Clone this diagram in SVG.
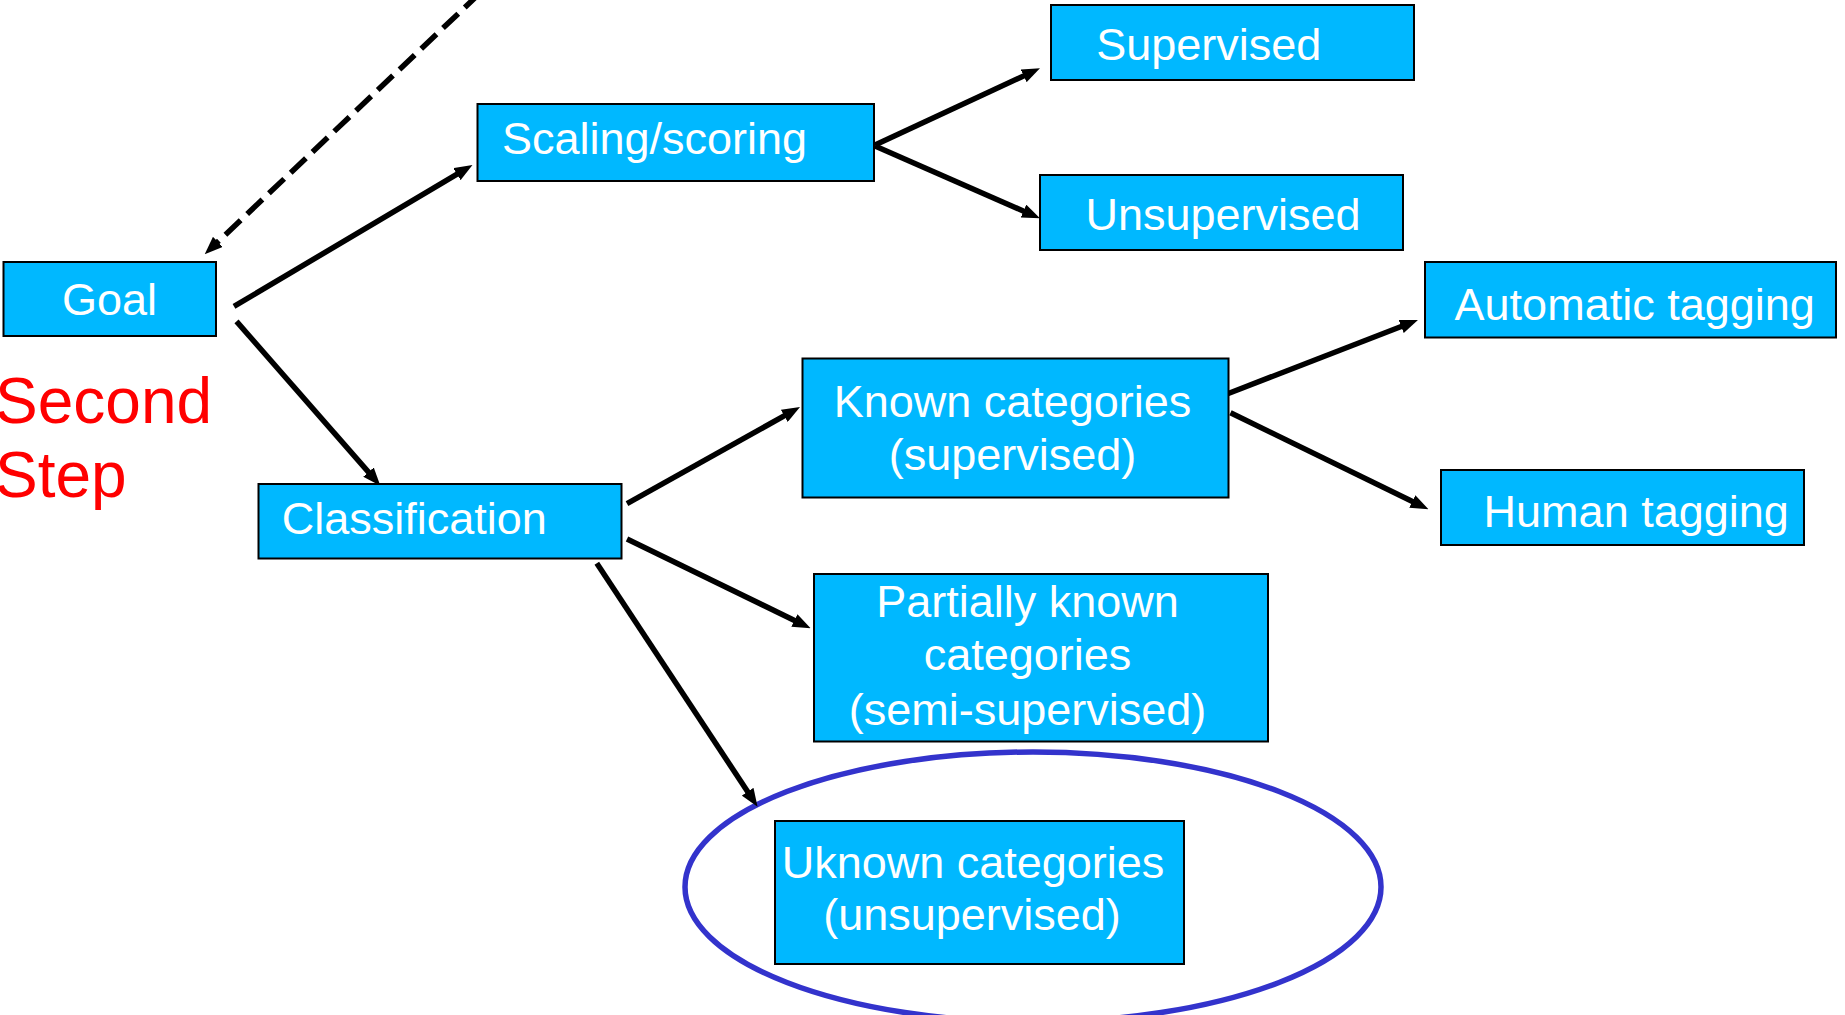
<svg xmlns="http://www.w3.org/2000/svg" width="1845" height="1015" viewBox="0 0 1845 1015">
<style>
.box{fill:#00B8FF;stroke:#000;stroke-width:2}
.lbl{font-family:"Liberation Sans",Arial,sans-serif;font-size:45px;fill:#fff;text-anchor:middle}
.red{font-family:"Liberation Sans",Arial,sans-serif;font-size:64px;fill:#FF0000}
.con{stroke:#000;stroke-width:5.5;fill:none;marker-end:url(#ah)}
.dash{stroke-dasharray:21 9}
</style>
<defs>
<marker id="ah" markerUnits="userSpaceOnUse" markerWidth="18" markerHeight="14" refX="7" refY="7" orient="auto">
<path d="M0,0 L18,7 L0,14 z" fill="#000"/>
</marker>
</defs>
<rect width="1845" height="1015" fill="#fff"/>
<ellipse id="highlight" cx="1033" cy="887" rx="348" ry="135" fill="none" stroke="#3333CC" stroke-width="5.5"/>
<g id="connectors">
<line class="con dash" x1="480" y1="-7" x2="212.7" y2="246.7"/>
<line class="con" x1="234" y1="306.4" x2="463" y2="170.6"/>
<line class="con" x1="236.5" y1="321.4" x2="373.1" y2="477.4"/>
<line class="con" x1="875" y1="145" x2="1030" y2="72.9"/>
<line class="con" x1="875" y1="146" x2="1029.9" y2="213.9"/>
<line class="con" x1="1227" y1="394" x2="1407.7" y2="324"/>
<line class="con" x1="1230.5" y1="412.7" x2="1418.6" y2="504.5"/>
<line class="con" x1="627" y1="503.6" x2="790.4" y2="412.4"/>
<line class="con" x1="627" y1="539" x2="800.7" y2="623.5"/>
<line class="con" x1="596.8" y1="563.3" x2="751.5" y2="797.5"/>
</g>
<g id="goal"><rect class="box" x="3.5" y="262" width="212.5" height="74"/><text class="lbl" x="109.5" y="315">Goal</text></g>
<g id="second-step"><text class="red" x="-5" y="423">Second</text><text class="red" x="-5" y="497">Step</text></g>
<g id="scaling"><rect class="box" x="477.5" y="104" width="396.5" height="77"/><text class="lbl" x="654.5" y="153.5">Scaling/scoring</text></g>
<g id="supervised"><rect class="box" x="1051" y="5" width="363" height="75"/><text class="lbl" x="1208.7" y="59.5">Supervised</text></g>
<g id="unsupervised"><rect class="box" x="1040" y="175" width="363" height="75"/><text class="lbl" x="1223" y="229.5">Unsupervised</text></g>
<g id="automatic"><rect class="box" x="1425" y="262" width="411" height="75.5"/><text class="lbl" x="1634.7" y="320">Automatic tagging</text></g>
<g id="known"><rect class="box" x="802.5" y="358.5" width="426" height="139"/><text class="lbl" x="1012.5" y="416.7">Known categories</text><text class="lbl" x="1012.5" y="470">(supervised)</text></g>
<g id="human"><rect class="box" x="1441" y="470" width="363" height="75"/><text class="lbl" x="1636.2" y="526.7">Human tagging</text></g>
<g id="classification"><rect class="box" x="258.5" y="484" width="363" height="74.5"/><text class="lbl" x="414.2" y="534">Classification</text></g>
<g id="partially"><rect class="box" x="814" y="574" width="454" height="167.5"/><text class="lbl" x="1027.5" y="616.7">Partially known</text><text class="lbl" x="1027.5" y="670">categories</text><text class="lbl" x="1027.5" y="725">(semi-supervised)</text></g>
<g id="unknown"><rect class="box" x="775" y="821" width="409" height="143"/><text class="lbl" x="973" y="877.5">Uknown categories</text><text class="lbl" x="972" y="930">(unsupervised)</text></g>
</svg>
